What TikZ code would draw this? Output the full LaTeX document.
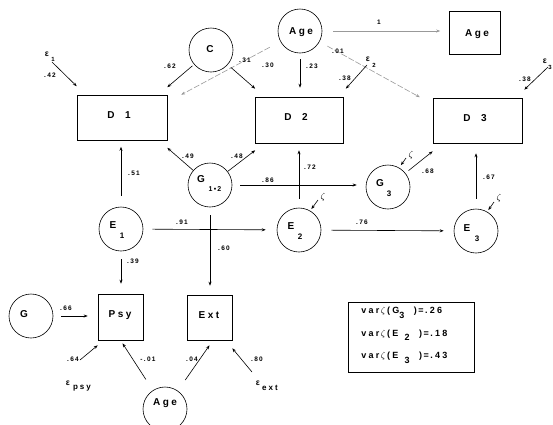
\documentclass[tikz,border=0pt]{standalone}
\usepackage{fontspec}
\setmainfont{Liberation Sans}
\newfontfamily\nodefont{Liberation Sans}[LetterSpace=25]
\newfontfamily\lblfont{Liberation Sans}[LetterSpace=20]
\usetikzlibrary{arrows.meta}
\begin{document}
\begin{tikzpicture}[x=1pt,y=-1pt,
  line width=0.6pt,
  circ/.style={circle,draw,minimum size=44pt,inner sep=0pt},
  boxn/.style={rectangle,draw,inner sep=0pt},
  txt/.style={inner sep=0pt,font=\nodefont\bfseries\fontsize{10}{12}\selectfont},
  sub/.style={inner sep=0pt,font=\nodefont\bfseries\fontsize{7}{8}\selectfont},
  epsn/.style={inner sep=0pt,font=\nodefont\bfseries\fontsize{8.5}{9}\selectfont},
  vtxt/.style={inner sep=0pt,anchor=west,font=\nodefont\bfseries\fontsize{9}{10}\selectfont},
  lbl/.style={inner sep=0pt,font=\lblfont\bfseries\fontsize{6.5}{7}\selectfont},
  arr/.style={-{Stealth[length=4pt,width=3pt]}},
  faded/.style={black!40}]
\useasboundingbox (0,0) rectangle (553,424);

% circles
\node[circ] (C) at (211,50) {};
\node[txt] (Ct) at (210,49) {C};
\node[circ] (AgeT) at (300,31) {};
\node[txt] (AgeTt) at (301,32) {Age};
\node[circ] (G12) at (210,185) {};
\node[txt] (G12t) at (201,179) {G};
\node[sub] (G12s) at (215,189) {1\,•\,2};
\node[circ] (E1) at (121,229) {};
\node[txt] (E1t) at (113,225) {E};
\node[sub,font=\nodefont\bfseries\fontsize{8}{9}\selectfont] (E1s) at (122,236) {1};
\node[circ] (E2) at (299,230) {};
\node[txt] (E2t) at (291,226) {E};
\node[sub,font=\nodefont\bfseries\fontsize{8}{9}\selectfont] (E2s) at (300,237) {2};
\node[circ] (G3) at (388,187) {};
\node[txt] (G3t) at (380,183) {G};
\node[sub,font=\nodefont\bfseries\fontsize{8}{9}\selectfont] (G3s) at (389,194) {3};
\node[circ] (E3) at (476,231) {};
\node[txt] (E3t) at (467,228) {E};
\node[sub,font=\nodefont\bfseries\fontsize{8}{9}\selectfont] (E3s) at (477,239) {3};
\node[circ] (G) at (31,316) {};
\node[txt] (Gt) at (24,314) {G};
\node[circ] (AgeB) at (165,409) {};
\node[txt] (AgeBt) at (165,403) {Age};

% boxes
\node[boxn,minimum width=51pt,minimum height=43pt] (AgeBox) at (475,33) {};
\node[txt] (AgeBoxt) at (477,34) {Age};
\node[boxn,minimum width=90pt,minimum height=45pt] (D1) at (122,118) {};
\node[txt] (D1t) at (119,115) {D\ \ 1};
\node[boxn,minimum width=88pt,minimum height=46pt] (D2) at (299.5,120) {};
\node[txt] (D2t) at (296,117) {D\ \ 2};
\node[boxn,minimum width=89pt,minimum height=45pt] (D3) at (477.5,120.5) {};
\node[txt] (D3t) at (475,118) {D\ \ 3};
\node[boxn,minimum width=45pt,minimum height=46pt] (Psy) at (120.5,317) {};
\node[txt] (Psyt) at (120,315) {Psy};
\node[boxn,minimum width=45pt,minimum height=45pt] (Ext) at (209.5,317.5) {};
\node[txt] (Extt) at (209,315) {Ext};

% variance box
\node[boxn,minimum width=126pt,minimum height=70pt] (VB) at (411,337) {};
\node[vtxt] (V1) at (361,313) {var\,$\zeta$\,(G\raisebox{-4.5pt}{3}\ \ )\,=\,.26};
\node[vtxt] (V2) at (361,335) {var\,$\zeta$\,(E\raisebox{-4.5pt}{\ \,2}\ \ )\,=\,.18};
\node[vtxt] (V3) at (361,358) {var\,$\zeta$\,(E\raisebox{-4.5pt}{\ \,3}\ \ )\,=\,.43};

% error terms
\node[epsn] (eps1) at (47,54) {ε};
\node[sub,font=\nodefont\bfseries\fontsize{6}{7}\selectfont] (eps1s) at (53,59) {1};
\coordinate (e1s) at (52,62);
\node[epsn] (eps2) at (368,59) {ε};
\node[sub,font=\nodefont\bfseries\fontsize{6}{7}\selectfont] (eps2s) at (374,65) {2};
\coordinate (e2s) at (367,65);
\node[epsn] (eps3) at (545,61) {ε};
\node[sub,font=\nodefont\bfseries\fontsize{6}{7}\selectfont] (eps3s) at (550,67) {3};
\coordinate (e3s) at (548,67);
\node[epsn] (epsp) at (68,383) {ε};
\node[sub,font=\nodefont\bfseries\fontsize{8}{9}\selectfont] (epspt) at (82,388) {psy};
\coordinate (epss) at (80,360);
\node[epsn] (epse) at (258,383) {ε};
\node[sub,font=\nodefont\bfseries\fontsize{8}{9}\selectfont] (epset) at (270,388) {ext};
\coordinate (exts) at (252,372);
\node[inner sep=0pt,font=\fontsize{9}{10}\selectfont] (zG3) at (411,155) {$\zeta$};
\coordinate (zg3s) at (406,158);
\node[inner sep=0pt,font=\fontsize{9}{10}\selectfont] (zE2) at (323,197) {$\zeta$};
\coordinate (ze2s) at (318,200);
\node[inner sep=0pt,font=\fontsize{9}{10}\selectfont] (zE3) at (499,198) {$\zeta$};
\coordinate (ze3s) at (494,202);

% connectors
\draw[arr,faded,shorten <=11pt,shorten >=9pt] (AgeT) -- (AgeT -| AgeBox.west);
\draw[arr,shorten <=6pt,shorten >=9pt] (AgeT) -- (AgeT |- D2.north);
\draw[arr,faded,dash pattern=on 6pt off 2pt,shorten <=12pt,shorten >=1pt] (AgeT) -- ([xshift=13pt]D1.north east);
\draw[arr,faded,dash pattern=on 6pt off 2pt,shorten <=9pt,shorten >=1pt] (AgeT) -- ([xshift=-12pt]D3.north west);
\draw[arr,shorten <=2pt] (C) -- ([yshift=8pt]D1.north east);
\draw[arr,shorten <=4pt] (C) -- ([yshift=8pt]D2.north west);
\draw[arr] (e1s) -- ([yshift=9pt]D1.north west);
\draw[arr] (e2s) -- ([shift={(2pt,8pt)}]D2.north east);
\draw[arr] (e3s) -- ([shift={(2pt,8pt)}]D3.north east);
\draw[arr,shorten <=11pt,shorten >=6pt] (E1) -- (E1 |- D1.south);
\draw[arr] (G12) -- ([yshift=-7pt]D1.south east);
\draw[arr] (G12) -- ([yshift=-7pt]D2.south west);
\draw[arr,shorten <=8pt,shorten >=9pt] (G12) -- (G12 -| G3.west);
\draw[arr,shorten <=9pt,shorten >=7pt] (E2) -- (E2 |- D2.south);
\draw[arr,shorten <=4pt] (G3) -- ([yshift=-8pt]D3.south west);
\draw[arr,shorten <=10pt,shorten >=10pt] (E3) -- (E3 |- D3.south);
\draw[arr,shorten >=3pt] (zg3s) -- (G3.60);
\draw[arr,shorten >=2pt] (ze2s) -- (E2.60);
\draw[arr,shorten >=2pt] (ze3s) -- (E3.60);
\draw[arr,shorten <=9pt,shorten >=11pt] (E1) -- (E2);
\draw[arr,shorten <=10pt,shorten >=10pt] (E2) -- (E3);
\draw[arr,shorten <=8pt,shorten >=9pt] (G12) -- (G12 |- Ext.north);
\draw[arr,shorten <=8pt,shorten >=10pt] (E1) -- (E1 |- Psy.north);
\draw[arr,shorten <=8pt,shorten >=10pt] (G) -- (G -| Psy.west);
\draw[arr] (epss) -- ([yshift=-5pt]Psy.south west);
\draw[arr,shorten <=13pt] (AgeB) -- ([shift={(2pt,-3pt)}]Psy.south);
\draw[arr,shorten <=13pt] (AgeB) -- ([yshift=-5pt]Ext.south);
\draw[arr] (exts) -- ([yshift=-8pt]Ext.south east);

% coefficient labels
\node[lbl] (l01) at (379,22) {1};
\node[lbl] (l02) at (50,75) {.42};
\node[lbl] (l03) at (170,66) {.62};
\node[lbl] (l04) at (245,60) {.31};
\node[lbl] (l05) at (268,65) {.30};
\node[lbl] (l06) at (312,66) {.23};
\node[lbl] (l07) at (338,51) {.01};
\node[lbl] (l08) at (345,78) {.38};
\node[lbl] (l09) at (525,79) {.38};
\node[lbl] (l10) at (134,173) {.51};
\node[lbl] (l11) at (188,156) {.49};
\node[lbl] (l12) at (237,156) {.48};
\node[lbl] (l13) at (268,180) {.86};
\node[lbl] (l14) at (310,167) {.72};
\node[lbl] (l15) at (428,171) {.68};
\node[lbl] (l16) at (489,177) {.67};
\node[lbl] (l17) at (182,222) {.91};
\node[lbl] (l18) at (362,222) {.76};
\node[lbl] (l19) at (224,248) {.60};
\node[lbl] (l20) at (133,261) {.39};
\node[lbl] (l21) at (66,308) {.66};
\node[lbl] (l22) at (73,359) {.64};
\node[lbl] (l23) at (148,359) {-.01};
\node[lbl] (l24) at (192,359) {.04};
\node[lbl] (l25) at (257,359) {.80};
\end{tikzpicture}
\end{document}
